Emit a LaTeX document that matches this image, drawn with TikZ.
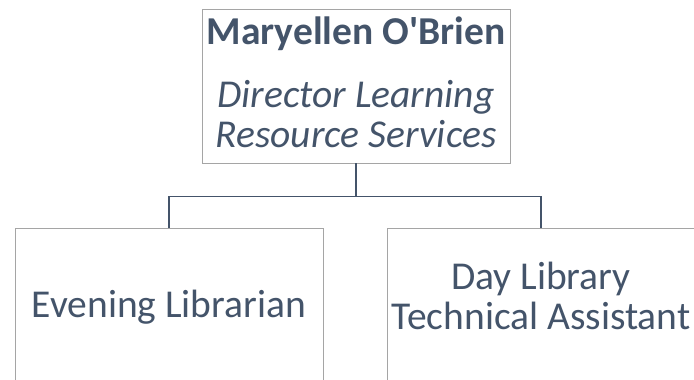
\documentclass[tikz,border=0pt]{standalone}
\usepackage{fontspec}
\setmainfont{Carlito}
\definecolor{slatetext}{RGB}{68,84,106}
\definecolor{boxgray}{RGB}{165,165,165}
\usetikzlibrary{positioning}

\begin{document}
\begin{tikzpicture}[x=1pt, y=1pt,
  orgbox/.style={draw=boxgray, line width=0.8pt, minimum width=308pt, minimum height=154pt,
    inner sep=0pt, align=center, text=slatetext, font=\fontsize{39.5}{40}\selectfont},
  link/.style={draw=slatetext, line width=1.6pt}]
  \useasboundingbox (0,0) rectangle (694,-380);

  \node[orgbox] (dir) at (356,-86) {\textbf{Maryellen O\textquotesingle Brien}\\[23pt]\textit{Director Learning}\\\textit{Resource Services}\rule[-7pt]{0pt}{1pt}};
  \node[orgbox] (eve) at (169,-305) {\rule{0pt}{31.6pt}Evening Librarian};
  \node[orgbox] (day) at (541,-305) {Day Library\\Technical Assistant\rule[-18pt]{0pt}{1pt}};

  \coordinate (fork) at ([yshift=-33pt]dir.south);
  \draw[link] (dir.south) -- (fork);
  \draw[link] (fork) -| (eve.north);
  \draw[link] (fork) -| (day.north);
\end{tikzpicture}
\end{document}
